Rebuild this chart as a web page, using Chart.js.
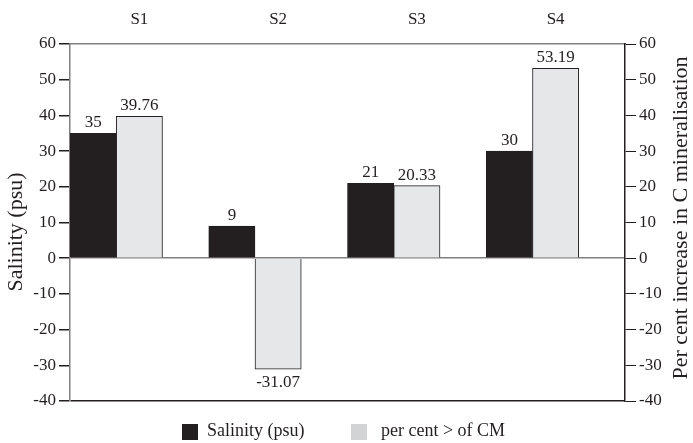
<!DOCTYPE html>
<html>
<head>
<meta charset="utf-8">
<script src="https://cdn.jsdelivr.net/npm/chart.js@4/dist/chart.umd.min.js"></script>
<style>
  html, body { margin: 0; padding: 0; background: #fff; }
  #wrap { position: relative; width: 693px; height: 443px; }
</style>
</head>
<body>
<div id="wrap"><canvas id="chart"></canvas></div>
<script>
const categories = ["S1", "S2", "S3", "S4"];
const salinity = [35, 9, 21, 30];
const mineralisation = [39.76, -31.07, 20.33, 53.19];
const salinityText = ["35", "9", "21", "30"];
const mineralisationText = ["39.76", "-31.07", "20.33", "53.19"];
const seriesNames = ["Salinity (psu)", "per cent > of CM"];
const leftTitle = "Salinity (psu)";
const rightTitle = "Per cent increase in C mineralisation";
const yMin = -40, yMax = 60, yStep = 10;

const ink = "#231f20";
const serif = "'Liberation Serif', 'DejaVu Serif', serif";

// value labels above / below each bar
const valueLabels = {
  id: "valueLabels",
  afterDatasetsDraw(chart) {
    const ctx = chart.ctx;
    const texts = [salinityText, mineralisationText];
    ctx.save();
    ctx.font = "17px " + serif;
    ctx.fillStyle = ink;
    ctx.textAlign = "center";
    [0, 1].forEach(di => {
      chart.getDatasetMeta(di).data.forEach((bar, i) => {
        const v = chart.data.datasets[di].data[i];
        if (v >= 0) {
          ctx.textBaseline = "bottom";
          ctx.fillText(texts[di][i], bar.x, bar.y - 2);
        } else {
          ctx.textBaseline = "top";
          ctx.fillText(texts[di][i], bar.x, bar.y + 5);
        }
      });
    });
    ctx.restore();
  }
};

// axis titles, both reading bottom to top
const axisTitles = {
  id: "axisTitles",
  afterDraw(chart) {
    const ctx = chart.ctx;
    ctx.save();
    ctx.font = "22px " + serif;
    ctx.fillStyle = ink;
    ctx.textAlign = "center";
    ctx.textBaseline = "middle";
    [[16, 232, leftTitle], [681, 218, rightTitle]].forEach(([x, y, t]) => {
      ctx.save();
      ctx.translate(x, y);
      ctx.rotate(-Math.PI / 2);
      ctx.fillText(t, 0, 0);
      ctx.restore();
    });
    ctx.restore();
  }
};

// simple legend at the bottom
const bottomLegend = {
  id: "bottomLegend",
  afterDraw(chart) {
    const ctx = chart.ctx;
    const items = [
      { box: 182, text: 207, color: ink },
      { box: 351, text: 381, color: "#d1d3d4" }
    ];
    ctx.save();
    ctx.font = "18px " + serif;
    ctx.textBaseline = "middle";
    items.forEach((it, i) => {
      ctx.fillStyle = it.color;
      ctx.fillRect(it.box, 424, 16, 16);
      ctx.fillStyle = ink;
      ctx.fillText(seriesNames[i], it.text, 431);
    });
    ctx.restore();
  }
};

new Chart(document.getElementById("chart"), {
  type: "bar",
  data: {
    labels: categories,
    datasets: [
      {
        label: seriesNames[0],
        data: salinity,
        backgroundColor: ink,
        borderColor: ink,
        borderWidth: 1,
        yAxisID: "y"
      },
      {
        label: seriesNames[1],
        data: mineralisation,
        backgroundColor: "#e6e7e8",
        borderColor: ink,
        borderWidth: 1,
        yAxisID: "y"
      },
      {
        label: "",
        data: [null, null, null, null],
        yAxisID: "y"
      }
    ]
  },
  options: {
    responsive: true,
    maintainAspectRatio: false,
    animation: false,
    datasets: { bar: { categoryPercentage: 1, barPercentage: 1, borderSkipped: "start" } },
    layout: { padding: { bottom: 42 } },
    plugins: {
      legend: { display: false },
      tooltip: { enabled: false }
    },
    scales: {
      x: {
        position: "top",
        grid: { display: false, drawTicks: false },
        border: { display: true, color: "#808080", width: 1.5 },
        ticks: { color: ink, font: { family: serif, size: 17 }, padding: 14 },
        afterFit(s) { s.height = 44; }
      },
      y: {
        position: "left",
        min: yMin,
        max: yMax,
        ticks: { stepSize: yStep, color: ink, font: { family: serif, size: 17 }, padding: 3 },
        grid: {
          drawTicks: true,
          tickLength: 11,
          tickColor: ink,
          color: c => c.tick.value === 0 ? "#808080" : (c.tick.value === yMin ? ink : "transparent"),
          lineWidth: 1.5
        },
        border: { color: "#808080", width: 1.5 },
        afterFit(s) { s.width = 70; }
      },
      y2: {
        position: "right",
        min: yMin,
        max: yMax,
        ticks: { stepSize: yStep, color: ink, font: { family: serif, size: 17 }, padding: 3 },
        grid: { drawOnChartArea: false, tickLength: 11, tickColor: ink },
        border: { color: ink, width: 1.5 },
        afterFit(s) { s.width = 68; }
      }
    }
  },
  plugins: [valueLabels, axisTitles, bottomLegend]
});
</script>
</body>
</html>
